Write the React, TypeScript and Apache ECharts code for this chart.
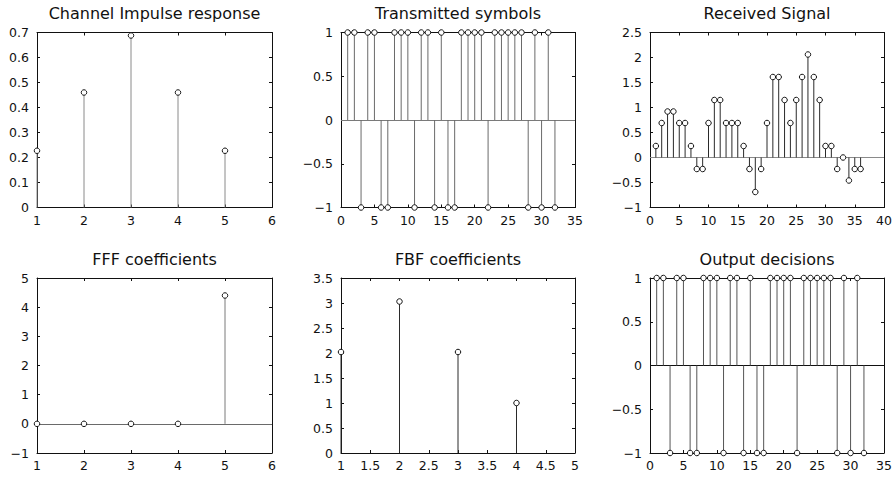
import React, { useEffect, useRef } from "react";
import * as echarts from "echarts";

// ---- data ----
const channelImpulse = [0.227, 0.46, 0.688, 0.46, 0.227];
const transmitted = [1, 1, -1, 1, 1, -1, -1, 1, 1, 1, -1, 1, 1, -1, 1, -1, -1, 1, 1, 1, 1, -1, 1, 1, 1, 1, 1, -1, 1, -1, 1, -1];
const received = [0.23, 0.69, 0.92, 0.92, 0.69, 0.69, 0.23, -0.23, -0.23, 0.69, 1.15, 1.15, 0.69, 0.69, 0.69, 0.23, -0.23, -0.69, -0.23, 0.69, 1.61, 1.61, 1.15, 0.69, 1.15, 1.61, 2.06, 1.61, 1.15, 0.23, 0.23, -0.23, 0.0, -0.46, -0.23, -0.23];
const fffCoefficients = [0, 0, 0, 0, 4.4];
const fbfCoefficients = [2.02, 3.03, 2.02, 1.0];
const decisions = [1, 1, -1, 1, 1, -1, -1, 1, 1, 1, -1, 1, 1, -1, 1, -1, -1, 1, 1, 1, 1, -1, 1, 1, 1, 1, 1, -1, 1, -1, 1, -1];

const titles = ["Channel Impulse response", "Transmitted symbols", "Received Signal", "FFF coefficients", "FBF coefficients", "Output decisions"];

const FONT = "DejaVu Sans";

type Panel = {
  title: string;
  values: number[];
  xMin: number; xMax: number; xInt: number;
  yMin: number; yMax: number; yInt: number;
  stem: string;
  base: string | null;
  left: number; top: number; width: number; height: number;
};

const ROW_TOP = [32.5, 278];
const COL_LEFT = [37, 341, 650];
const COL_W = [235, 234, 234];
const H = 175;

const panels: Panel[] = [
  { title: titles[0], values: channelImpulse, xMin: 1, xMax: 6, xInt: 1, yMin: 0, yMax: 0.7, yInt: 0.1, stem: "#8a8a8a", base: null, left: COL_LEFT[0], top: ROW_TOP[0], width: COL_W[0], height: H },
  { title: titles[1], values: transmitted, xMin: 0, xMax: 35, xInt: 5, yMin: -1, yMax: 1, yInt: 0.5, stem: "#6a6a6a", base: "#7a7a7a", left: COL_LEFT[1], top: ROW_TOP[0], width: COL_W[1], height: H },
  { title: titles[2], values: received, xMin: 0, xMax: 40, xInt: 5, yMin: -1, yMax: 2.5, yInt: 0.5, stem: "#2a2a2a", base: "#8a8a8a", left: COL_LEFT[2], top: ROW_TOP[0], width: COL_W[2], height: H },
  { title: titles[3], values: fffCoefficients, xMin: 1, xMax: 6, xInt: 1, yMin: -1, yMax: 5, yInt: 1, stem: "#7a7a7a", base: "#6a6a6a", left: COL_LEFT[0], top: ROW_TOP[1], width: COL_W[0], height: H },
  { title: titles[4], values: fbfCoefficients, xMin: 1, xMax: 5, xInt: 0.5, yMin: 0, yMax: 3.5, yInt: 0.5, stem: "#2a2a2a", base: null, left: COL_LEFT[1], top: ROW_TOP[1], width: COL_W[1], height: H },
  { title: titles[5], values: decisions, xMin: 0, xMax: 35, xInt: 5, yMin: -1, yMax: 1, yInt: 0.5, stem: "#555555", base: "#111111", left: COL_LEFT[2], top: ROW_TOP[1], width: COL_W[2], height: H },
];

const fmt = (v: number) => {
  const r = Math.round(v * 1000) / 1000;
  return String(r).replace("-", "\u2212");
};

export default function App() {
  const ref = useRef<HTMLDivElement>(null);
  useEffect(() => {
    if (!ref.current) return;
    const chart = echarts.init(ref.current, undefined, { renderer: "svg" });
    const grids: any[] = [];
    const xAxes: any[] = [];
    const yAxes: any[] = [];
    const series: any[] = [];
    const graphics: any[] = [];
    const axisLine = { show: true, onZero: false, lineStyle: { color: "#111", width: 1 } };
    const axisTick = { show: true, inside: true, length: 3, lineStyle: { color: "#111", width: 1 } };

    panels.forEach((p, i) => {
      grids.push({ left: p.left, top: p.top, width: p.width, height: p.height, show: false, containLabel: false });
      const common = { type: "value", gridIndex: i, splitLine: { show: false }, axisLine, axisTick };
      xAxes.push({
        ...common, position: "bottom", min: p.xMin, max: p.xMax, interval: p.xInt,
        axisLabel: { show: true, margin: 6, color: "#111", fontFamily: FONT, fontSize: 12.5, formatter: fmt, showMinLabel: true, showMaxLabel: true },
      });
      xAxes.push({ ...common, position: "top", min: p.xMin, max: p.xMax, interval: p.xInt, axisLabel: { show: false } });
      yAxes.push({
        ...common, position: "left", min: p.yMin, max: p.yMax, interval: p.yInt,
        axisLabel: { show: true, margin: 8, color: "#111", fontFamily: FONT, fontSize: 12.5, formatter: fmt, showMinLabel: true, showMaxLabel: true },
      });
      yAxes.push({ ...common, position: "right", min: p.yMin, max: p.yMax, interval: p.yInt, axisLabel: { show: false } });

      const data = p.values.map((v, k) => [k + 1, v]);
      const stemColor = p.stem;
      series.push({
        type: "custom",
        xAxisIndex: 2 * i,
        yAxisIndex: 2 * i,
        data,
        encode: { x: 0, y: 1 },
        silent: true,
        z: 2,
        renderItem: (_params: any, api: any) => {
          const x = api.value(0);
          const y = api.value(1);
          const p0 = api.coord([x, 0]);
          const p1 = api.coord([x, y]);
          return {
            type: "line",
            shape: { x1: p0[0], y1: p0[1], x2: p1[0], y2: p1[1] },
            style: { stroke: stemColor, lineWidth: 1 },
          };
        },
      });
      const scatter: any = {
        type: "scatter",
        xAxisIndex: 2 * i,
        yAxisIndex: 2 * i,
        data,
        symbol: "circle",
        symbolSize: 5.5,
        clip: false,
        silent: true,
        z: 4,
        itemStyle: { color: "#ffffff", borderColor: "#111", borderWidth: 1, opacity: 1 },
      };
      if (p.base) {
        scatter.markLine = {
          silent: true,
          symbol: ["none", "none"],
          label: { show: false },
          lineStyle: { color: p.base, type: "solid", width: 1 },
          data: [{ yAxis: 0 }],
          z: 1,
        };
      }
      series.push(scatter);

      graphics.push({
        type: "text",
        x: p.left + p.width / 2,
        y: p.top - 19,
        style: { text: p.title, fontFamily: FONT, fontSize: 16, fill: "#111", align: "center", verticalAlign: "middle" },
        silent: true,
      });
    });

    chart.setOption({
      animation: false,
      backgroundColor: "#ffffff",
      grid: grids,
      xAxis: xAxes,
      yAxis: yAxes,
      series,
      graphic: graphics,
    });
    return () => chart.dispose();
  }, []);
  return <div ref={ref} style={{ position: "fixed", left: 0, top: 0, width: 896, height: 477, background: "#fff" }} />;
}
